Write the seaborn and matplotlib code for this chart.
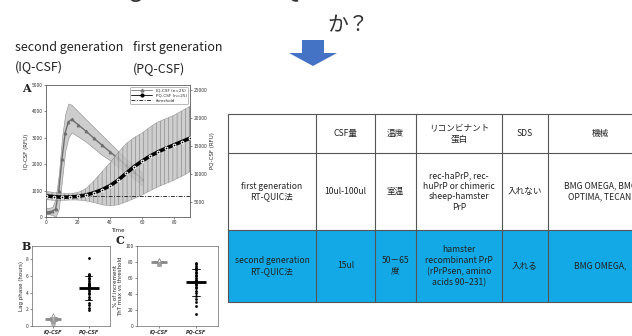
import numpy as np
import pandas as pd
import matplotlib
matplotlib.use('Agg')
import matplotlib.pyplot as plt
from matplotlib.patches import Polygon, Rectangle
from matplotlib.lines import Line2D
import seaborn as sns

# panel A: IQ-CSF (left axis, RFU)
iq_time = [0, 2, 4, 6, 8, 10, 12, 14, 16, 20, 25, 30, 35, 40, 45, 50, 55, 60]
iq_mean = [200, 200, 220, 300, 1000, 2200, 3200, 3600, 3700, 3500, 3250, 2980, 2720, 2470, 2220, 1960, 1700, 1450]
iq_high = [350, 350, 380, 700, 1600, 3000, 3900, 4300, 4250, 4000, 3700, 3400, 3100, 2800, 2500, 2200, 1950, 1700]
iq_low = [100, 100, 80, 0, 300, 1400, 2500, 3000, 3200, 3050, 2850, 2600, 2350, 2150, 1900, 1700, 1450, 1200]

# panel A: PQ-CSF (right axis, RFU)
pq_time = [0, 5, 10, 15, 20, 25, 30, 35, 40, 45, 50, 55, 60, 65, 70, 75, 80, 85, 90]
pq_mean = [6100, 5950, 5850, 5900, 6000, 6250, 6650, 7200, 7900, 8900, 10100, 11300, 12300, 13200, 13950, 14600, 15200, 15800, 16400]
pq_high = [6900, 6700, 6500, 6500, 6700, 7400, 8800, 10400, 12000, 13800, 15400, 16500, 17300, 18400, 19300, 19900, 20500, 21300, 22100]
pq_low = [5400, 5300, 5300, 5350, 5350, 5200, 4900, 4500, 4300, 4500, 5000, 5600, 6250, 7000, 7700, 8300, 8900, 9600, 10400]
threshold = 6000

# panel B: lag phase (hours)
iq_lag = [0.4, 0.5, 0.6, 0.6, 0.7, 0.7, 0.8, 0.8, 0.9, 1.0, 1.1, 1.2, 1.3]
pq_lag = [8.2, 6.2, 6.1, 6.0, 5.8, 5.6, 5.4, 5.2, 5.1, 5.0, 4.9, 4.8, 4.7, 4.6, 4.5,
          4.4, 4.2, 4.0, 3.8, 3.5, 3.2, 2.8, 2.5, 2.2, 1.9]

# panel C: % of increment ThT max vs threshold
iq_pct = [77, 78, 79, 79, 80, 80, 81, 81, 82, 83]
pq_pct = [79, 77, 75, 73, 72, 70, 68, 66, 64, 62, 60, 58, 57, 55, 53, 51, 49, 47,
          44, 41, 38, 34, 30, 25, 15]
groups = ['IQ-CSF', 'PQ-CSF']

# table
col_header = ['', 'CSF量', '温度', 'リコンビナント\n蛋白', 'SDS', '機械']
row_first = ['first generation\nRT-QUIC法', '10ul-100ul', '室温',
             'rec-haPrP, rec-\nhuPrP or chimeric\nsheep-hamster\nPrP', '入れない',
             'BMG OMEGA, BMG\nOPTIMA, TECAN']
row_second = ['second generation\nRT-QUIC法', '15ul', '50－65\n度',
              'hamster\nrecombinant PrP\n(rPrPsen, amino\nacids 90–231)', '入れる',
              'BMG OMEGA,']

sns.set_theme(style='ticks')
plt.rcParams['font.family'] = ['Noto Sans CJK JP', 'DejaVu Sans']
plt.rcParams['hatch.linewidth'] = 0.4

W, H = 632, 336
fig = plt.figure(figsize=(W / 100, H / 100), dpi=100)
fig.patch.set_facecolor('white')

# overlay axes in pixel coords for slide items
ov = fig.add_axes([0, 0, 1, 1])
ov.set_xlim(0, W)
ov.set_ylim(H, 0)
ov.axis('off')

# first title line is cut off by the slide edge
ov.text(315, -3, 'second generation RT-QUIC法では何が改善されたの', fontsize=16,
        ha='center', va='baseline', color='#333333')
ov.text(348, 25, 'か？', fontsize=15, ha='center', va='center', color='#333333')

arrow = Polygon([[302, 40], [324, 40], [324, 53], [337, 53], [313, 66],
                 [289, 53], [302, 53]], closed=True, fc='#4472C4', ec='none')
ov.add_patch(arrow)

ov.text(15, 47, 'second generation', fontsize=9, ha='left', va='center', color='#222222')
ov.text(15, 67, '(IQ-CSF)', fontsize=9, ha='left', va='center', color='#222222')
ov.text(133, 48, 'first generation', fontsize=9, ha='left', va='center', color='#222222')
ov.text(133, 69, '(PQ-CSF)', fontsize=9, ha='left', va='center', color='#222222')

# table
xs = [228, 316, 375, 416, 502, 548, 665]
ys = [114, 153, 230, 302]
ov.add_patch(Rectangle((xs[0], ys[2]), xs[-1] - xs[0], ys[3] - ys[2], fc='#12A9E6', ec='none'))
for x in xs[:-1]:
    ov.plot([x, x], [ys[0], ys[-1]], color='#555555', lw=0.8)
for y in ys:
    ov.plot([xs[0], xs[-1]], [y, y], color='#555555', lw=0.8)
for r, row in enumerate([col_header, row_first, row_second]):
    yc = (ys[r] + ys[r + 1]) / 2
    for c, txt in enumerate(row):
        xc = (xs[c] + xs[c + 1]) / 2
        if c == len(row) - 1:
            xc = 600
        ov.text(xc, yc, txt, fontsize=6.2, ha='center', va='center',
                color='#222222', linespacing=1.25)

# panel A
tick_kw = dict(labelsize=3.5, length=1.5, width=0.4, pad=1, colors='#333333')
axA = fig.add_axes([46 / W, 1 - 217 / H, 144 / W, 132 / H])
axA.fill_between(iq_time, iq_low, iq_high, facecolor='#cdcdcd', edgecolor='#8a8a8a', lw=0.4, zorder=1)
sns.lineplot(x=iq_time, y=iq_mean, ax=axA, color='#6e6e6e', lw=1.0, marker='^',
             markersize=2, markeredgecolor='#6e6e6e', zorder=3)
axA.set_xlim(0, 90)
axA.set_ylim(0, 5000)
axA.set_xticks([0, 20, 40, 60, 80])
axA.set_yticks([0, 1000, 2000, 3000, 4000, 5000])
axA.tick_params(**tick_kw)
axA.set_xlabel('Time', fontsize=4, labelpad=2, family='DejaVu Sans')
axA.set_ylabel('IQ-CSF (RFU)', fontsize=4, labelpad=2, family='DejaVu Sans')

axR = axA.twinx()
axR.fill_between(pq_time, pq_low, pq_high, facecolor='#c2c2c2', edgecolor='#6a6a6a',
                 hatch='||||', lw=0.3, alpha=0.8, zorder=1)
sns.lineplot(x=pq_time, y=pq_mean, ax=axR, color='black', lw=2.6, marker='o',
             markersize=2, zorder=3)
axR.axhline(threshold, color='#333333', lw=0.7, ls=(0, (4, 1.5, 1, 1.5)), zorder=2)
axR.set_ylim(2320, 25900)
axR.set_yticks([5000, 10000, 15000, 20000, 25000])
axR.tick_params(**tick_kw)
axR.set_ylabel('PQ-CSF (RFU)', fontsize=4, labelpad=2, family='DejaVu Sans')
for ax in (axA, axR):
    for s in ax.spines.values():
        s.set_linewidth(0.5)
        s.set_color('#666666')
handles = [Line2D([], [], color='#7a7a7a', lw=0.6, marker='^', ms=2),
           Line2D([], [], color='black', lw=0.6, marker='o', ms=2),
           Line2D([], [], color='#333333', lw=0.7, ls=(0, (4, 1.5, 1, 1.5)))]
leg = axR.legend(handles, ['IQ-CSF (n=25)', 'PQ-CSF (n=25)', 'threshold'], loc='upper right',
                 frameon=True, handlelength=5, borderpad=0.3, labelspacing=0.3,
                 prop={'family': 'DejaVu Sans', 'size': 3})
leg.get_frame().set_linewidth(0.4)
leg.get_frame().set_edgecolor('#666666')


def strip_panel(ax, iq_vals, pq_vals, ylim, yticks, ylabel):
    sns.stripplot(x=['IQ-CSF'] * len(iq_vals), y=iq_vals, order=groups, ax=ax, jitter=False,
                  marker='^', size=2.5, color='white', edgecolor='#8a8a8a', linewidth=0.5)
    sns.stripplot(x=['PQ-CSF'] * len(pq_vals), y=pq_vals, order=groups, ax=ax, jitter=False,
                  marker='o', size=2, color='black')
    sns.pointplot(x=['IQ-CSF'] * len(iq_vals), y=iq_vals, order=groups, ax=ax, errorbar='sd',
                  capsize=0.2, color='#8a8a8a', marker='_', markersize=12, linestyle='none',
                  err_kws={'linewidth': 0.6})
    sns.pointplot(x=['PQ-CSF'] * len(pq_vals), y=pq_vals, order=groups, ax=ax, errorbar='sd',
                  capsize=0.2, color='black', marker='_', markersize=14, linestyle='none',
                  err_kws={'linewidth': 0.6})
    ax.set_xlim(-0.6, 1.6)
    ax.set_ylim(*ylim)
    ax.set_yticks(yticks)
    ax.tick_params(**tick_kw)
    ax.set_xticks([0, 1])
    ax.set_xticklabels(groups, fontsize=3.5, style='italic', weight='bold', family='DejaVu Sans')
    ax.set_ylabel(ylabel, fontsize=4, labelpad=1.5, family='DejaVu Sans', linespacing=1.0)
    ax.set_xlabel('')
    for s in ax.spines.values():
        s.set_linewidth(0.5)
        s.set_color('#666666')


axB = fig.add_axes([32 / W, 1 - 326 / H, 78 / W, 80 / H])
strip_panel(axB, iq_lag, pq_lag, (0, 9.6), [0, 2, 4, 6, 8], 'Lag phase (hours)')
axC = fig.add_axes([137 / W, 1 - 326 / H, 81 / W, 80 / H])
strip_panel(axC, iq_pct, pq_pct, (0, 100), [0, 20, 40, 60, 80, 100],
            '% of increment\nThT max vs threshold')

ov.text(22, 88, 'A', fontsize=8, family='DejaVu Serif', weight='bold', ha='left', va='center', color='#222222')
ov.text(22, 246, 'B', fontsize=8, family='DejaVu Serif', weight='bold', ha='left', va='center', color='#222222')
ov.text(115, 241, 'C', fontsize=8, family='DejaVu Serif', weight='bold', ha='left', va='center', color='#222222')

fig.savefig('out.png', dpi=100, facecolor='white')
